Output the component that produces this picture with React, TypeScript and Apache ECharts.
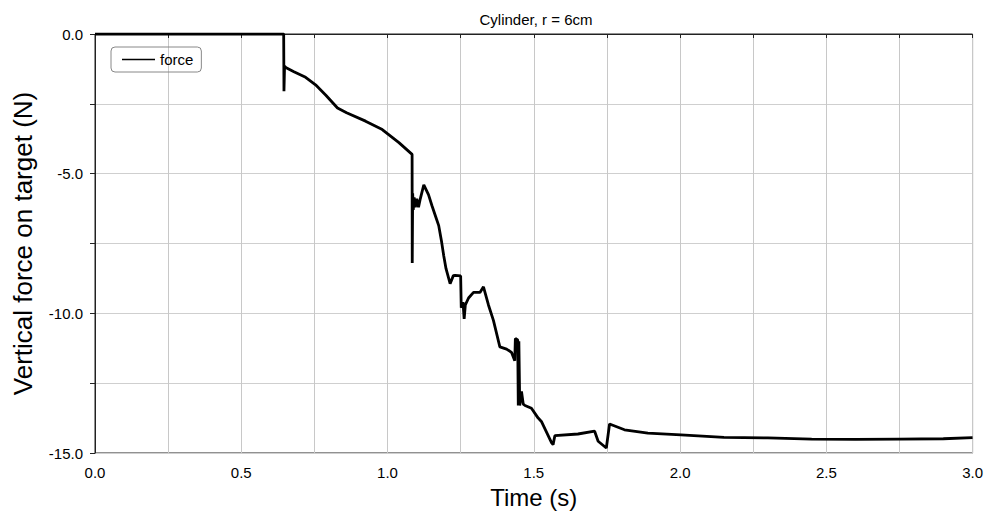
import React, { useEffect, useRef } from "react";
import * as echarts from "echarts";

const titleText = "Cylinder, r = 6cm";
const xName = "Time (s)";
const yName = "Vertical force on target (N)";
const seriesName = "force";

const times = [
  0, 0.645, 0.646, 0.648, 0.652, 0.68, 0.72, 0.754, 0.79, 0.829, 0.86, 0.925, 0.982, 1.039, 1.084,
  1.0845, 1.086, 1.088, 1.091, 1.095, 1.1, 1.106, 1.112, 1.124, 1.14, 1.152, 1.165, 1.175, 1.185, 1.192,
  1.2, 1.214, 1.225, 1.231, 1.25, 1.252, 1.258, 1.262, 1.266, 1.277, 1.294, 1.316, 1.328,
  1.345, 1.362, 1.384, 1.407, 1.424, 1.435, 1.437, 1.445, 1.447, 1.449, 1.452, 1.458,
  1.464, 1.47, 1.492, 1.515, 1.526, 1.561, 1.566, 1.572, 1.651, 1.708, 1.72, 1.748,
  1.759, 1.81, 1.89, 2.003, 2.15, 2.3, 2.45, 2.6, 2.75, 2.9, 3.0,
];
const forces = [
  0, 0, -2.05, -1.15, -1.2, -1.35, -1.55, -1.82, -2.2, -2.65, -2.82, -3.12, -3.42, -3.89, -4.31,
  -8.2, -5.7, -6.3, -5.85, -6.2, -5.9, -6.2, -5.9, -5.4, -5.75, -6.15, -6.55, -6.86, -7.45, -7.93,
  -8.4, -8.94, -8.65, -8.64, -8.66, -9.8, -9.6, -10.2, -9.7, -9.45, -9.25, -9.25, -9.05,
  -9.7, -10.25, -11.2, -11.28, -11.4, -11.7, -10.9, -10.95, -13.3, -11.0, -13.3, -12.8,
  -13.25, -13.3, -13.4, -13.75, -13.87, -14.64, -14.7, -14.38, -14.32, -14.22, -14.58, -14.82,
  -13.96, -14.17, -14.29, -14.35, -14.44, -14.46, -14.5, -14.51, -14.5, -14.49, -14.45,
];

const xMin = 0, xMax = 3, xStep = 0.25, xLabelStep = 0.5;
const yMin = -15, yMax = 0, yStep = 2.5, yLabelStep = 5;

const FONT = "Liberation Sans, Arial, sans-serif";

export default function App() {
  const ref = useRef<HTMLDivElement>(null);
  useEffect(() => {
    if (!ref.current) return;
    const chart = echarts.init(ref.current, undefined, { renderer: "svg" });
    const data = times.map((t, i) => [t, forces[i]]);
    const isMult = (v: number, s: number) => Math.abs(v / s - Math.round(v / s)) < 1e-6;
    chart.setOption({
      animation: false,
      backgroundColor: "#fff",
      textStyle: { fontFamily: FONT },
      title: {
        text: titleText,
        left: 536,
        textAlign: "center",
        top: 12,
        padding: 0,
        textStyle: { fontSize: 15, fontWeight: "normal", color: "#000", fontFamily: FONT },
      },
      legend: {
        left: 111,
        top: 47,
        orient: "vertical",
        padding: [5, 8, 5, 11],
        borderColor: "#888",
        borderWidth: 1,
        borderRadius: 4,
        icon: "rect",
        itemWidth: 33,
        itemHeight: 1.6,
        itemGap: 4,
        textStyle: { fontSize: 15, color: "#000", fontFamily: FONT },
        data: [seriesName],
      },
      grid: {
        left: 95,
        right: 10,
        top: 34,
        bottom: 59,
        show: true,
        borderColor: "#222",
        borderWidth: 1,
      },
      xAxis: {
        type: "value",
        min: xMin,
        max: xMax,
        interval: xStep,
        name: xName,
        nameLocation: "middle",
        nameGap: 32,
        nameTextStyle: { fontSize: 24, color: "#000", fontFamily: FONT },
        axisLine: { lineStyle: { color: "#222", width: 1 } },
        axisTick: { show: true, length: 4, lineStyle: { color: "#222" } },
        axisLabel: {
          fontSize: 15,
          color: "#000",
          margin: 12,
          formatter: (v: number) => (isMult(v, xLabelStep) ? v.toFixed(1) : ""),
        },
        splitLine: { show: true, lineStyle: { color: "#c8c8c8", width: 1 } },
      },
      yAxis: {
        type: "value",
        min: yMin,
        max: yMax,
        interval: yStep,
        name: yName,
        nameLocation: "middle",
        nameGap: 59,
        nameTextStyle: { fontSize: 26, color: "#000", fontFamily: FONT },
        axisLine: { show: true, lineStyle: { color: "#222", width: 1 } },
        axisTick: { show: true, length: 5, lineStyle: { color: "#222" } },
        axisLabel: {
          fontSize: 15,
          color: "#000",
          margin: 12,
          formatter: (v: number) => (isMult(v, yLabelStep) ? v.toFixed(1) : ""),
        },
        splitLine: { show: true, lineStyle: { color: "#cfcfcf", width: 1 } },
      },
      series: [
        {
          name: seriesName,
          type: "line",
          data,
          symbol: "none",
          lineStyle: { color: "#000", width: 2.8 },
          itemStyle: { color: "#000" },
        },
      ],
    });
    return () => chart.dispose();
  }, []);
  return <div ref={ref} style={{ width: 986, height: 514, position: "absolute", left: 0, top: 0 }} />;
}
